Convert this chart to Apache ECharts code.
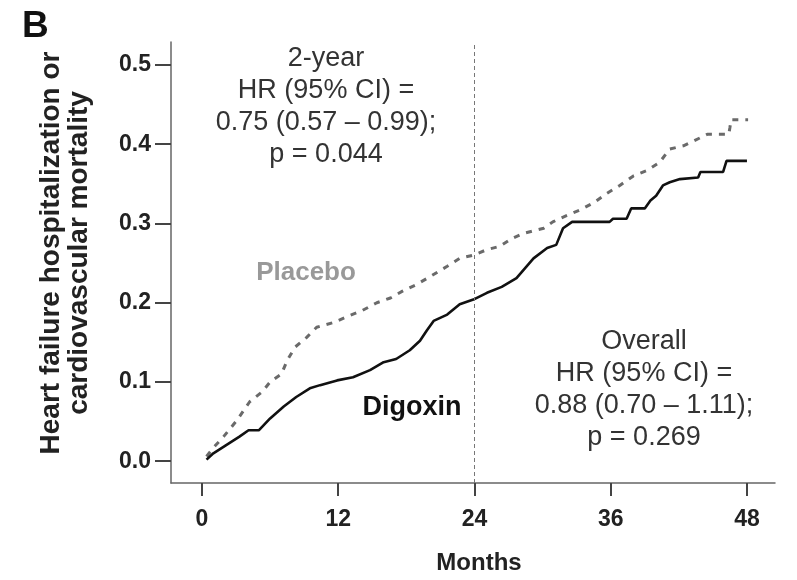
<!DOCTYPE html>
<html>
<head>
<meta charset="utf-8">
<script src="https://cdn.jsdelivr.net/npm/echarts@6/dist/echarts.min.js"></script>
<style>html,body{margin:0;padding:0;background:#fff;}#c{width:797px;height:580px;}</style>
</head>
<body>
<div id="c"></div>
<script>
var xTicks = [0, 12, 24, 36, 48];
var yTicks = [0, 0.1, 0.2, 0.3, 0.4, 0.5];

var digoxinMonths = [0.4,1.0,2.2,3.3,4.1,5.0,6.0,7.2,8.3,9.5,10.4,11.9,13.3,14.8,16.0,17.1,18.3,19.2,19.8,20.4,21.6,22.7,23.9,25.1,26.4,27.7,29.2,30.4,31.2,31.8,32.6,35.9,36.2,37.4,37.8,39.0,39.5,40.0,40.6,41.2,42.1,43.7,43.9,45.9,46.2,48.0];
var digoxinValues = [0.002,0.010,0.021,0.031,0.039,0.039,0.054,0.069,0.081,0.092,0.096,0.102,0.106,0.115,0.125,0.129,0.140,0.152,0.165,0.177,0.185,0.198,0.204,0.2125,0.220,0.231,0.256,0.269,0.273,0.294,0.302,0.302,0.306,0.306,0.319,0.319,0.329,0.335,0.348,0.352,0.356,0.358,0.365,0.365,0.379,0.379];

var placeboMonths = [0.4,1.0,1.9,3.1,4.2,5.3,6.0,7.0,7.5,8.2,9.2,10.1,11.6,12.7,14.1,15.4,16.6,17.7,18.9,20.1,21.6,22.7,23.9,25.1,26.2,27.3,28.3,30.1,30.9,32.1,33.3,34.6,35.6,36.8,38.0,39.2,40.3,41.2,42.4,43.3,44.5,46.4,46.5,46.6,48.1];
var placeboValues = [0.006,0.017,0.031,0.052,0.075,0.0875,0.100,0.110,0.127,0.144,0.156,0.169,0.175,0.182,0.190,0.200,0.206,0.215,0.223,0.233,0.246,0.256,0.260,0.267,0.271,0.281,0.2875,0.294,0.302,0.310,0.317,0.327,0.3375,0.348,0.360,0.367,0.377,0.394,0.398,0.404,0.4125,0.4125,0.421,0.431,0.431];

var landmarkMonth = 24;

function pairs(xs, ys) { return xs.map(function (x, i) { return [x, ys[i]]; }); }

var FONT = '"Liberation Sans", Arial, Helvetica, sans-serif';
var chart = echarts.init(document.getElementById('c'), null, { renderer: 'canvas' });
chart.setOption({
  animation: false,
  backgroundColor: '#ffffff',
  grid: { left: 171, right: 22, top: 42, bottom: 93 },
  xAxis: {
    type: 'value', min: -2.73, max: 50.47,
    splitLine: { show: false },
    axisLine: { onZero: false, lineStyle: { color: '#666', width: 1.5 } },
    axisTick: { customValues: xTicks, length: 13, lineStyle: { color: '#444', width: 2 } },
    axisLabel: { customValues: xTicks, margin: 25, color: '#222', fontWeight: 'bold', fontSize: 23, fontFamily: FONT },
    name: 'Months', nameLocation: 'middle', nameGap: 68,
    nameTextStyle: { color: '#222', fontWeight: 'bold', fontSize: 24, fontFamily: FONT, padding: [0, 0, 0, 12] }
  },
  yAxis: {
    type: 'value', min: -0.0275, max: 0.529,
    splitLine: { show: false },
    axisLine: { onZero: false, lineStyle: { color: '#666', width: 1.5 } },
    axisTick: { customValues: yTicks, length: 16, lineStyle: { color: '#444', width: 2 } },
    axisLabel: { customValues: yTicks, margin: 20, color: '#222', fontWeight: 'bold', fontSize: 23, fontFamily: FONT,
      formatter: function (v) { return v.toFixed(1); } }
  },
  series: [
    {
      name: 'Placebo', type: 'line', data: pairs(placeboMonths, placeboValues),
      showSymbol: false, symbol: 'none',
      lineStyle: { color: '#6a6a6a', width: 3, type: [6, 7] }
    },
    {
      name: 'Digoxin', type: 'line', data: pairs(digoxinMonths, digoxinValues),
      showSymbol: false, symbol: 'none',
      lineStyle: { color: '#111', width: 2.6 },
      markLine: {
        silent: true, symbol: ['none', 'none'], label: { show: false },
        lineStyle: { color: '#777', width: 1, type: [4, 3] },
        data: [{ xAxis: landmarkMonth }]
      }
    }
  ],
  graphic: [
    { type: 'text', left: 22, top: 8, style: { text: 'B', font: 'bold 37px ' + FONT, fill: '#111' } },
    { type: 'text', x: 51, y: 253, rotation: Math.PI / 2,
      style: { text: 'Heart failure hospitalization or', font: 'bold 28px ' + FONT, fill: '#222', textAlign: 'center', textVerticalAlign: 'middle' } },
    { type: 'text', x: 79, y: 253, rotation: Math.PI / 2,
      style: { text: 'cardiovascular mortality', font: 'bold 28px ' + FONT, fill: '#222', textAlign: 'center', textVerticalAlign: 'middle' } },
    { type: 'text', x: 326, y: 107,
      style: { text: '2-year\nHR (95% CI) =\n0.75 (0.57 \u2013 0.99);\np = 0.044', font: '27px ' + FONT, lineHeight: 32, fill: '#333', textAlign: 'center', textVerticalAlign: 'middle' } },
    { type: 'text', x: 644, y: 390,
      style: { text: 'Overall\nHR (95% CI) =\n0.88 (0.70 \u2013 1.11);\np = 0.269', font: '27px ' + FONT, lineHeight: 32, fill: '#333', textAlign: 'center', textVerticalAlign: 'middle' } },
    { type: 'text', x: 306, y: 273,
      style: { text: 'Placebo', font: 'bold 26px ' + FONT, fill: '#999', textAlign: 'center', textVerticalAlign: 'middle' } },
    { type: 'text', x: 412, y: 408,
      style: { text: 'Digoxin', font: 'bold 27px ' + FONT, fill: '#111', textAlign: 'center', textVerticalAlign: 'middle' } }
  ]
});
</script>
</body>
</html>
